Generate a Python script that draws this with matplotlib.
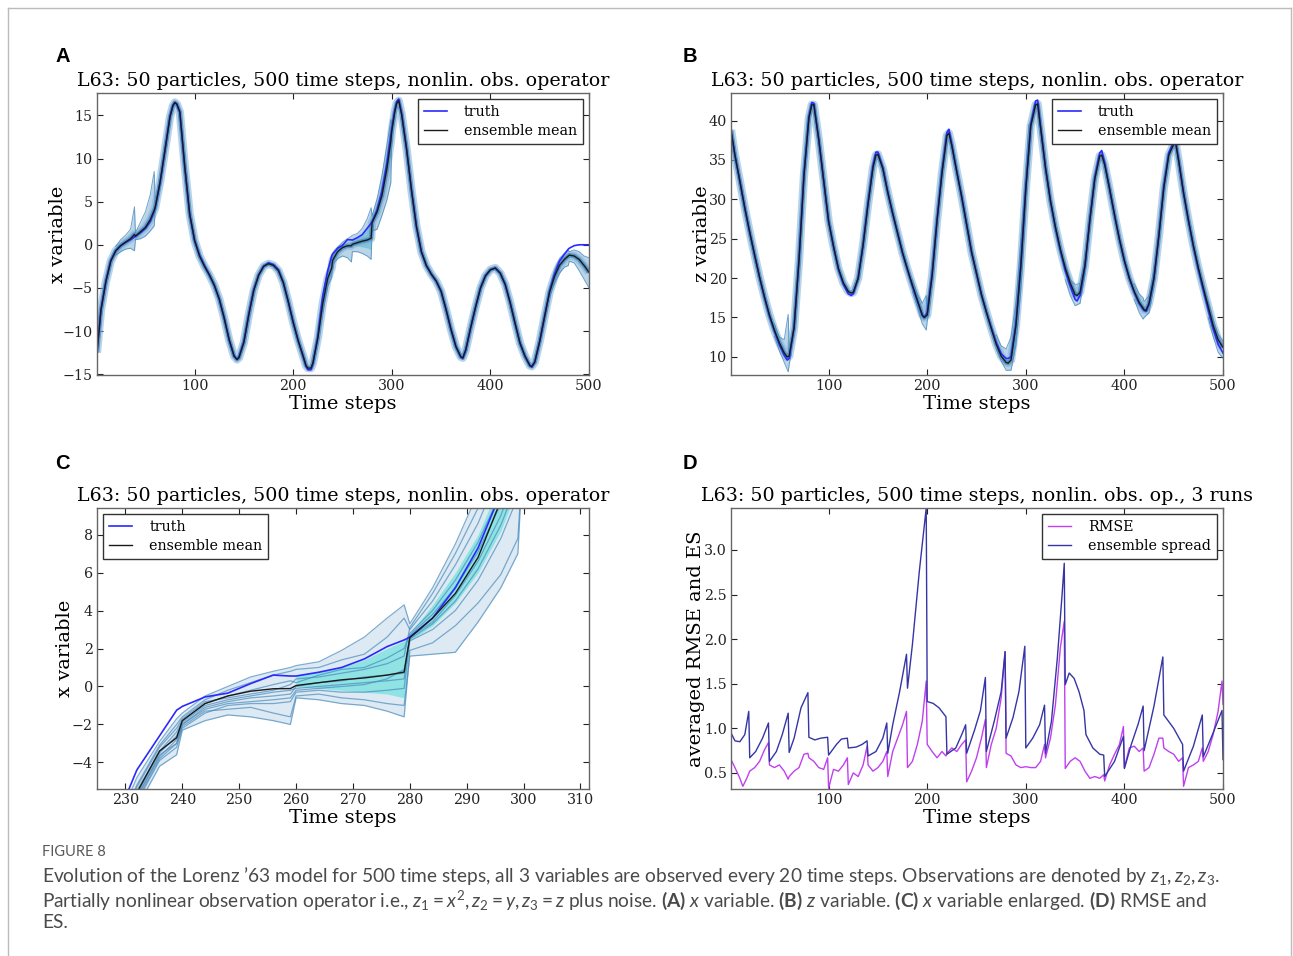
import numpy as np
import matplotlib
matplotlib.use("Agg")
import matplotlib.pyplot as plt
from matplotlib.lines import Line2D

plt.rcParams['font.family'] = 'DejaVu Serif'
plt.rcParams['mathtext.fontset'] = 'custom'
plt.rcParams['mathtext.rm'] = 'Lato'
plt.rcParams['mathtext.it'] = 'Lato:italic'
plt.rcParams['mathtext.bf'] = 'Lato:bold'

# ---------------- data: panel A (x variable) ----------------
a_t = [1, 5, 10, 15, 20, 25, 30, 35, 39, 40, 45, 50, 55, 59, 60, 65, 70, 75, 78, 80, 82, 85,
       90, 95, 100, 105, 110, 115, 120, 125, 130, 135, 140, 143, 145, 150, 155, 160, 165, 170, 175, 180, 185,
       190, 195, 200, 205, 210, 213, 215, 218, 220, 225, 230, 235, 239, 240, 245, 250, 255, 259, 260, 265, 270, 275,
       279, 280, 285, 290, 295, 299, 300, 303, 305, 307, 310, 315, 320, 325, 330, 335, 340, 345, 350, 355, 360, 365,
       370, 372, 375, 380, 385, 390, 395, 400, 405, 410, 415, 420, 425, 430, 435, 440, 442, 445, 450, 455, 460, 465,
       470, 475, 479, 480, 485, 490, 495, 500]
a_truth = [-12.5, -7.5, -4.2, -1.8, -0.7, -0.1, 0.3, 0.6, 0.9, 1.0, 1.4, 1.9, 2.7, 3.9, 4.3, 7.2, 11.0, 14.9, 16.2, 16.5, 16.3, 15.4,
           9.0, 3.5, 0.5, -1.2, -2.4, -3.5, -4.7, -6.3, -8.5, -11.0, -12.9, -13.3, -13.0, -11.2, -8.0, -5.2, -3.5, -2.5, -2.1, -2.3, -2.9,
           -4.4, -6.6, -9.0, -11.1, -12.9, -14.1, -14.5, -14.5, -13.8, -10.6, -5.9, -3.0, -1.3, -1.05, -0.4, -0.06, 0.6, 0.57, 0.55, 0.82, 1.17, 1.9,
           2.48, 2.65, 4.0, 6.2, 9.4, 12.7, 13.5, 15.6, 16.6, 16.9, 15.2, 11.1, 6.3, 2.1, -0.8, -2.4, -3.4, -4.2, -5.4, -7.5, -9.8, -11.8,
           -13.0, -13.2, -12.2, -9.6, -7.2, -5.0, -3.6, -2.9, -2.7, -3.3, -4.6, -6.7, -9.1, -11.4, -12.9, -14.0, -14.2, -13.6, -11.2, -8.3, -5.4, -3.4,
           -1.9, -1.1, -0.5, -0.4, -0.1, 0.0, 0.0, 0.0]
a_mean = [-12.5, -7.6, -4.3, -1.9, -0.7, -0.1, 0.3, 0.7, 1.2, 1.0, 1.5, 2.0, 2.9, 4.0, 4.3, 7.3, 11.0, 14.8, 16.1, 16.5, 16.3, 15.4,
          9.1, 3.6, 0.5, -1.3, -2.5, -3.5, -4.7, -6.3, -8.5, -11.0, -12.9, -13.3, -13.1, -11.3, -8.1, -5.3, -3.5, -2.5, -2.2, -2.4, -3.0,
          -4.4, -6.6, -9.0, -11.1, -12.9, -14.0, -14.3, -14.3, -13.7, -10.8, -6.8, -3.9, -2.7, -1.8, -0.8, -0.32, -0.12, -0.11, 0.05, 0.24, 0.42, 0.55,
          0.76, 2.57, 3.8, 5.7, 8.8, 12.0, 13.2, 15.4, 16.4, 16.7, 15.1, 11.1, 6.3, 2.1, -0.8, -2.4, -3.4, -4.2, -5.4, -7.5, -9.8, -11.8,
          -13.0, -13.1, -12.2, -9.6, -7.2, -5.0, -3.6, -2.9, -2.7, -3.3, -4.6, -6.7, -9.1, -11.4, -12.9, -14.0, -14.1, -13.6, -11.2, -8.3, -5.5, -3.7,
          -2.4, -1.7, -1.3, -1.2, -1.3, -1.7, -2.4, -3.2]
# ensemble envelope where the particles spread out
a_bands = [
    ([20, 25, 30, 35, 39, 40], [-1.2, -0.8, -0.5, -0.4, -0.7, 0.6], [-0.2, 0.6, 1.1, 1.8, 4.4, 1.4]),
    ([40, 45, 50, 55, 59, 60], [0.6, 0.7, 1.0, 1.6, 2.2, 3.9], [1.4, 2.6, 3.8, 5.8, 8.5, 4.8]),
    ([230, 235, 239, 240, 245, 250, 255, 259, 260, 265, 270, 275, 279, 280, 285, 290, 295, 299, 300],
     [-7.8, -4.8, -3.8, -2.3, -1.6, -1.3, -1.5, -2.0, -0.8, -0.8, -1.0, -1.3, -1.7, 1.6, 1.8, 3.4, 5.2, 7.2, 12.5],
     [-6.2, -3.2, -1.7, -1.4, -0.3, 0.3, 0.7, 1.0, 1.1, 1.3, 1.9, 3.0, 4.3, 3.3, 5.3, 8.0, 11.5, 14.5, 14.0]),
    ([460, 465, 470, 475, 479, 480, 485, 490, 495, 500],
     [-6.0, -4.5, -3.3, -2.6, -2.4, -1.9, -2.1, -3.0, -4.0, -5.0],
     [-5.0, -2.9, -1.6, -1.0, -0.6, -0.8, -0.6, -0.8, -1.3, -1.5]),
]

# ---------------- data: panel B (z variable) ----------------
b_t = [1, 5, 10, 15, 20, 25, 30, 35, 40, 45, 50, 55, 58, 60, 65, 70, 75, 80, 83, 85, 90, 95,
       100, 105, 110, 115, 120, 123, 125, 130, 135, 140, 145, 148, 150, 155, 160, 165, 170, 175, 180, 185, 190, 195,
       197, 200, 205, 210, 215, 220, 222, 225, 230, 235, 240, 245, 250, 255, 260, 265, 270, 275, 280, 282, 285, 290, 295,
       300, 305, 310, 312, 315, 320, 325, 330, 335, 340, 345, 350, 352, 355, 360, 365, 370, 375, 377, 380, 385, 390, 395,
       400, 405, 410, 415, 420, 422, 425, 430, 435, 440, 445, 450, 452, 455, 460, 465, 470, 475, 480, 485, 490, 495,
       500]
b_truth = [38.8, 35.6, 32.3, 28.9, 25.8, 22.9, 20.1, 17.5, 15.2, 13.3, 11.6, 10.2, 9.6, 9.8, 13.8, 22.5, 33.2, 40.5, 42.3, 42.2, 37.6, 32.4,
           27.2, 24.0, 21.1, 19.2, 18.0, 17.8, 18.0, 20.0, 24.3, 29.6, 34.3, 36.0, 36.0, 34.0, 30.9, 28.2, 25.7, 23.2, 21.1, 19.0, 17.1, 15.3,
           15.0, 15.6, 20.6, 27.5, 33.6, 38.5, 38.9, 36.9, 33.5, 30.3, 26.8, 23.3, 20.6, 17.9, 15.7, 13.7, 11.8, 10.4, 9.8, 9.8, 10.0, 14.2, 21.8,
           31.5, 39.5, 42.5, 42.6, 39.2, 34.0, 29.8, 26.4, 23.5, 21.0, 19.0, 17.3, 17.1, 17.8, 21.5, 27.5, 32.8, 35.9, 36.2, 34.6, 31.3, 28.0, 24.9,
           22.2, 20.0, 18.2, 16.8, 15.9, 15.8, 16.7, 20.0, 25.5, 31.7, 35.9, 37.3, 37.4, 35.0, 30.8, 27.3, 24.0, 21.1, 18.5, 16.0, 13.6, 11.6,
           10.5]
b_mean = [38.8, 35.6, 32.3, 28.9, 25.8, 22.9, 20.1, 17.6, 15.3, 13.4, 11.8, 10.5, 10.0, 10.1, 13.7, 22.3, 33.0, 40.3, 42.0, 42.0, 37.6, 32.4,
          27.2, 24.0, 21.2, 19.4, 18.3, 18.1, 18.2, 20.0, 24.2, 29.4, 34.0, 35.6, 35.7, 33.9, 30.9, 28.2, 25.7, 23.2, 21.1, 19.1, 17.2, 15.3,
          15.0, 15.3, 20.3, 27.3, 33.3, 38.1, 38.4, 36.8, 33.5, 30.3, 26.8, 23.3, 20.6, 17.9, 15.7, 13.6, 11.6, 10.1, 9.3, 9.2, 9.6, 14.0, 21.6,
          31.3, 39.3, 42.0, 42.1, 39.1, 34.0, 29.8, 26.5, 23.7, 21.3, 19.4, 17.9, 17.8, 18.2, 21.6, 27.4, 32.6, 35.5, 35.6, 34.4, 31.3, 28.0, 24.9,
          22.2, 20.0, 18.3, 16.9, 16.0, 15.9, 16.8, 20.0, 25.4, 31.5, 35.6, 37.0, 37.1, 34.9, 30.8, 27.3, 24.1, 21.3, 18.8, 16.4, 14.0, 12.2,
          11.2]
b_bands = [
    ([45, 50, 55, 59, 60, 62], [12.6, 10.8, 9.3, 8.1, 9.0, 10.4], [14.2, 12.5, 12.2, 15.4, 10.6, 12.0]),
    ([185, 190, 195, 199, 200, 203], [18.3, 16.3, 14.2, 13.4, 14.5, 17.0], [19.8, 18.0, 16.8, 17.8, 16.2, 19.5]),
    ([270, 275, 280, 285, 290, 295, 299, 300, 303],
     [11.0, 9.5, 8.3, 8.3, 11.5, 18.5, 27.0, 30.5, 36.5],
     [12.8, 11.4, 11.0, 12.5, 17.0, 25.0, 30.7, 33.5, 39.5]),
    ([340, 345, 350, 355, 360], [19.8, 17.8, 16.5, 16.8, 20.5], [21.8, 19.8, 19.2, 19.3, 22.5]),
    ([410, 415, 419, 420, 425, 430], [17.3, 15.6, 14.8, 15.0, 15.6, 19.0], [19.3, 18.0, 17.5, 17.0, 17.8, 21.0]),
    ([485, 490, 495, 500], [15.0, 12.6, 10.6, 9.8], [17.0, 14.7, 12.9, 12.0]),
]

# ---------------- data: panel C (x variable, enlarged) ----------------
c_t = [228, 232, 236, 239, 240, 244, 248, 252, 256, 259, 260, 264, 268, 272, 276, 279, 280, 284, 288, 292, 296, 299, 300]
c_truth = [-7.3, -4.4, -2.6, -1.25, -1.05, -0.55, -0.35, 0.15, 0.6, 0.55, 0.55, 0.75, 1.0, 1.45, 2.1, 2.45, 2.6, 3.6, 5.2, 7.3, 10.2, 12.5, 13.3]
c_mean = [-8.4, -5.6, -3.4, -2.7, -1.8, -0.9, -0.5, -0.25, -0.12, -0.11, 0.05, 0.2, 0.35, 0.45, 0.6, 0.76, 2.57, 3.6, 4.9, 6.8, 9.8, 11.9, 13.0]
c_members = [
    [-7.6, -4.8, -2.9, -1.7, -1.4, -0.5, 0.0, 0.5, 0.8, 1.0, 1.1, 1.3, 1.9, 2.6, 3.6, 4.3, 3.3, 5.2, 7.5, 10.2, 13.0, 15.0, 13.5],
    [-8.0, -5.2, -3.1, -2.0, -1.6, -0.7, -0.2, 0.2, 0.6, 0.8, 0.9, 1.0, 1.4, 1.7, 2.6, 3.6, 3.0, 4.5, 6.4, 8.6, 11.5, 13.5, 13.5],
    [-8.3, -5.5, -3.4, -2.4, -1.8, -0.9, -0.5, -0.2, 0.1, 0.3, 0.2, 0.6, 0.9, 1.0, 1.5, 2.0, 2.8, 4.0, 5.6, 7.6, 10.2, 12.6, 13.2],
    [-8.6, -5.8, -3.7, -2.8, -2.0, -1.1, -0.8, -0.6, -0.5, -0.4, 0.0, 0.2, 0.3, 0.5, 0.6, 0.7, 2.6, 3.4, 4.8, 6.6, 9.0, 11.5, 13.0],
    [-8.9, -6.1, -3.9, -3.2, -2.2, -1.4, -1.0, -0.9, -0.9, -0.8, -0.3, -0.2, -0.3, -0.3, -0.2, -0.1, 2.4, 3.0, 4.0, 5.6, 7.8, 10.0, 13.0],
    [-9.2, -6.4, -4.2, -3.6, -2.3, -1.8, -1.5, -1.6, -1.8, -2.0, -0.6, -0.7, -0.9, -1.0, -1.3, -1.6, 1.9, 2.3, 3.2, 4.4, 5.9, 7.8, 12.8],
    [-8.7, -5.9, -3.6, -3.0, -2.1, -1.3, -1.2, -1.1, -1.4, -1.6, -0.5, -0.4, -0.6, -0.7, -0.9, -1.0, 1.6, 1.7, 1.8, 3.4, 5.2, 7.0, 12.8],
    [-8.2, -5.3, -3.2, -2.2, -1.7, -0.8, -0.6, -0.4, -0.2, 0.1, 0.4, 0.5, 0.7, 0.9, 1.2, 1.6, 3.1, 4.9, 7.0, 9.4, 12.2, 14.0, 13.5],
    [-8.5, -5.7, -3.5, -2.6, -1.9, -1.0, -0.7, -0.5, -0.3, -0.2, -0.1, 0.0, 0.1, 0.2, 0.3, 0.4, 2.7, 3.8, 5.2, 7.1, 9.6, 12.0, 13.1],
    [-8.8, -6.0, -3.8, -3.0, -2.0, -1.2, -0.9, -0.8, -0.7, -0.6, -0.2, -0.1, 0.0, 0.1, 0.4, 0.9, 2.5, 3.3, 4.5, 6.2, 8.5, 10.8, 13.0],
]
# light cyan shaded region between the particles
cyan_t = [260, 264, 268, 272, 276, 279, 280, 284, 288, 292, 296, 299]
cyan_lo = [0.0, -0.1, -0.2, -0.3, -0.4, -0.6, 2.4, 3.2, 4.4, 6.0, 8.2, 10.5]
cyan_hi = [0.6, 0.75, 1.0, 1.4, 2.0, 2.4, 2.8, 4.3, 6.0, 8.0, 10.8, 13.0]

# ---------------- data: panel D (RMSE and spread) ----------------
es_t = [1, 5, 10, 15, 19, 20, 26, 33, 39, 40, 47, 53, 59, 60, 65, 72, 79, 80, 86, 92,
        99, 100, 108, 113, 119, 120, 128, 134, 139, 140, 148, 155, 159, 160, 165, 172, 179, 180, 185, 192,
        199, 200, 206, 212, 219, 220, 229, 235, 239, 240, 248, 254, 259, 260, 268, 275, 279, 280, 287, 293,
        299, 300, 307, 314, 319, 320, 326, 332, 337, 339, 340, 344, 349, 354, 359, 361, 368, 375, 379, 380,
        390, 399, 400, 407, 414, 419, 420, 430, 439, 440, 450, 459, 460, 470, 479, 480, 490, 499, 500]
es = [0.95, 0.86, 0.85, 0.93, 1.19, 0.67, 0.74, 0.89, 1.06, 0.63, 0.74, 0.93, 1.17, 0.73, 0.89, 1.23, 1.40, 0.90, 0.87, 0.89,
      0.90, 0.70, 0.82, 0.88, 0.89, 0.78, 0.79, 0.82, 0.86, 0.69, 0.74, 0.89, 1.06, 0.72, 1.04, 1.41, 1.83, 1.45, 1.94, 2.76,
      3.47, 1.30, 1.28, 1.23, 1.13, 0.71, 0.78, 0.93, 1.04, 0.72, 0.98, 1.20, 1.57, 0.74, 1.08, 1.41, 1.86, 0.89, 1.12, 1.41,
      1.92, 0.78, 0.89, 1.04, 1.26, 0.72, 1.08, 1.79, 2.53, 2.85, 1.49, 1.62, 1.56, 1.41, 1.20, 0.93, 0.78, 0.71, 0.70, 0.46,
      0.63, 0.91, 0.55, 0.82, 1.05, 1.25, 0.75, 1.25, 1.80, 1.15, 1.00, 0.82, 0.52, 0.80, 1.15, 0.68, 0.95, 1.20, 0.65]
rmse_t = [1, 5, 10, 13, 17, 20, 25, 30, 35, 39, 40, 45, 50, 55, 59, 60, 65, 70, 75, 79,
          80, 85, 90, 95, 99, 100, 105, 110, 115, 119, 120, 125, 130, 135, 139, 140, 145, 150, 155, 159,
          160, 165, 170, 175, 179, 180, 185, 190, 195, 199, 200, 205, 210, 215, 219, 220, 225, 230, 235, 239,
          240, 245, 250, 255, 259, 260, 265, 270, 275, 279, 280, 285, 290, 295, 300, 305, 310, 315, 319, 320,
          325, 330, 335, 339, 340, 345, 350, 355, 360, 365, 370, 375, 379, 380, 385, 390, 395, 399, 400, 405,
          410, 415, 419, 420, 425, 430, 435, 439, 440, 445, 450, 455, 459, 460, 465, 470, 475, 479, 480, 485,
          490, 495, 499, 500]
rmse = [0.65, 0.56, 0.44, 0.35, 0.44, 0.52, 0.56, 0.63, 0.76, 0.84, 0.59, 0.56, 0.59, 0.52, 0.43, 0.46, 0.52, 0.56, 0.71, 0.72,
        0.67, 0.63, 0.56, 0.54, 0.67, 0.33, 0.54, 0.52, 0.59, 0.67, 0.37, 0.50, 0.46, 0.59, 0.80, 0.59, 0.52, 0.56, 0.63, 0.74,
        0.46, 0.74, 0.89, 1.04, 1.19, 0.56, 0.63, 0.82, 1.08, 1.53, 0.82, 0.74, 0.67, 0.74, 0.69, 0.72, 0.78, 0.74, 0.82, 0.87,
        0.40, 0.52, 0.67, 0.89, 1.10, 0.56, 0.82, 1.00, 1.34, 1.86, 0.72, 0.69, 0.59, 0.56, 0.57, 0.56, 0.56, 0.63, 0.82, 0.67,
        0.89, 1.26, 1.90, 2.20, 0.55, 0.63, 0.67, 0.63, 0.52, 0.44, 0.46, 0.44, 0.48, 0.41, 0.59, 0.71, 0.82, 1.02, 0.56, 0.78,
        0.80, 0.74, 0.78, 0.52, 0.56, 0.71, 0.89, 0.89, 0.78, 0.74, 0.71, 0.63, 0.67, 0.35, 0.56, 0.59, 0.63, 0.78, 0.63, 0.74,
        0.93, 1.19, 1.53, 1.27]

title = "L63: 50 particles, 500 time steps, nonlin. obs. operator"
ens_col = "#4a8bbd"
truth_col = "#2a2aff"

W, H = 1293, 956
fig = plt.figure(figsize=(W / 100, H / 100), dpi=100)


def box(l, t, r, b):
    return [l / W, 1 - b / H, (r - l) / W, (b - t) / H]


def style(ax):
    ax.tick_params(direction='in', top=True, right=True, length=4, labelsize=10.3, colors='#222222', pad=3)
    for s in ax.spines.values():
        s.set_color('#666666')
        s.set_linewidth(1.0)


def legend(ax, loc, handles, labels):
    lg = ax.legend(handles, labels, loc=loc, fontsize=10.3, handlelength=1.6, handletextpad=1.2,
                   fancybox=False, framealpha=1, borderaxespad=0.45, labelspacing=0.35)
    lg.get_frame().set_edgecolor('#333333')
    lg.get_frame().set_linewidth(1.0)


def ens_panel(ax, t, truth, mean, bands):
    ax.plot(t, mean, color='#7fb2d8', lw=6.0, alpha=0.55, solid_capstyle='butt', solid_joinstyle='round')
    ax.plot(t, mean, color=ens_col, lw=3.2, alpha=0.8, solid_capstyle='butt', solid_joinstyle='round')
    for bt, lo, hi in bands:
        ax.fill_between(bt, lo, hi, color='#6aa3cc', alpha=0.45, lw=0)
        ax.plot(bt, lo, color=ens_col, lw=0.7, alpha=0.8)
        ax.plot(bt, hi, color=ens_col, lw=0.7, alpha=0.8)
    l1, = ax.plot(t, truth, color=truth_col, lw=1.2)
    l2, = ax.plot(t, mean, color='#1a1a1a', lw=1.0)
    return l1, l2


def labels(ax, ylab, ylab_x, ttl=title):
    ax.set_title(ttl, fontsize=13.7, pad=5)
    ax.set_xlabel("Time steps", fontsize=14, labelpad=1)
    ax.set_ylabel(ylab, fontsize=14)
    ax.yaxis.set_label_coords(ylab_x, 0.5)


# ---- A ----
axA = fig.add_axes(box(97, 93, 589, 375))
axA.fill_between(cyan_t[:6], cyan_lo[:6], cyan_hi[:6], color='#8fe3e3', lw=0)
hA = ens_panel(axA, a_t, a_truth, a_mean, a_bands)
axA.set_xlim(1, 500)
axA.set_ylim(-15.1, 17.6)
axA.set_xticks([100, 200, 300, 400, 500])
axA.set_yticks([-15, -10, -5, 0, 5, 10, 15])
labels(axA, "x variable", -0.060)
style(axA)
legend(axA, 'upper right', hA, ["truth", "ensemble mean"])

# ---- B ----
axB = fig.add_axes(box(731, 93, 1223, 375))
hB = ens_panel(axB, b_t, b_truth, b_mean, b_bands)
axB.set_xlim(1, 500)
axB.set_ylim(7.7, 43.5)
axB.set_xticks([100, 200, 300, 400, 500])
axB.set_yticks([10, 15, 20, 25, 30, 35, 40])
labels(axB, "z variable", -0.041)
style(axB)
legend(axB, 'upper right', hB, ["truth", "ensemble mean"])

# ---- C ----
axC = fig.add_axes(box(97, 508, 589, 789))
c_arr = np.array(c_members)
axC.fill_between(c_t, c_arr.min(axis=0), c_arr.max(axis=0), color='#6aa3cc', alpha=0.22, lw=0)
axC.fill_between(cyan_t, cyan_lo, cyan_hi, color='#8fe3e3', lw=0)
for m in c_members:
    axC.plot(c_t, m, color=ens_col, lw=0.9, alpha=0.7)
lC1, = axC.plot(c_t, c_truth, color=truth_col, lw=1.2)
lC2, = axC.plot(c_t, c_mean, color='#1a1a1a', lw=1.0)
axC.set_xlim(225, 311.5)
axC.set_ylim(-5.4, 9.4)
axC.set_xticks([230, 240, 250, 260, 270, 280, 290, 300, 310])
axC.set_yticks([-4, -2, 0, 2, 4, 6, 8])
labels(axC, "x variable", -0.046)
style(axC)
legend(axC, 'upper left', [lC1, lC2], ["truth", "ensemble mean"])

# ---- D ----
axD = fig.add_axes(box(731, 508, 1223, 789))
lD1, = axD.plot(rmse_t, rmse, color='#c040f0', lw=1.0)
lD2, = axD.plot(es_t, es, color='#3535a5', lw=1.0)
axD.set_xlim(1, 500)
axD.set_ylim(0.32, 3.47)
axD.set_xticks([100, 200, 300, 400, 500])
axD.set_yticks([0.5, 1.0, 1.5, 2.0, 2.5, 3.0])
axD.set_yticklabels(["0.5", "1.0", "1.5", "2.0", "2.5", "3.0"])
labels(axD, "averaged RMSE and ES", -0.052, "L63: 50 particles, 500 time steps, nonlin. obs. op., 3 runs")
style(axD)
legend(axD, 'upper right', [lD1, lD2], ["RMSE", "ensemble spread"])

# ---- panel letters ----
for lab, px, py in [("A", 55, 56), ("B", 683, 56), ("C", 55, 464), ("D", 683, 464)]:
    fig.text(px / W, 1 - py / H, lab, fontsize=14.5, fontweight='bold', family='Liberation Sans',
             va='center', ha='left')

# ---- caption ----
cap_font = 'Lato'
fig.text(42 / W, 1 - 852 / H, "FIGURE 8", fontsize=10.5, color='#5a5a5a', family=cap_font, va='center')
cap1 = "Evolution of the Lorenz \u201963 model for 500 time steps, all 3 variables are observed every 20 time steps. " \
       "Observations are denoted by $z_1, z_2, z_3$."
cap2 = "Partially nonlinear observation operator i.e., $z_1 = x^2, z_2 = y, z_3 = z$ plus noise. " \
       "$\\mathbf{(A)}$ $x$ variable. $\\mathbf{(B)}$ $z$ variable. $\\mathbf{(C)}$ $x$ variable enlarged. " \
       "$\\mathbf{(D)}$ RMSE and"
for txt, py in [(cap1, 876), (cap2, 900), ("ES.", 923)]:
    fig.text(42 / W, 1 - py / H, txt, fontsize=13.8, color='#4a4a4a', family=cap_font, va='center')

# ---- light frame around the figure ----
frame_kw = dict(color='#bbbbbb', lw=1.0, transform=fig.transFigure)
fig.add_artist(Line2D([8 / W, 8 / W], [0, 1 - 8 / H], **frame_kw))
fig.add_artist(Line2D([8 / W, 1291 / W], [1 - 8 / H, 1 - 8 / H], **frame_kw))
fig.add_artist(Line2D([1291 / W, 1291 / W], [0, 1 - 8 / H], **frame_kw))

fig.savefig("out.png", dpi=100)
